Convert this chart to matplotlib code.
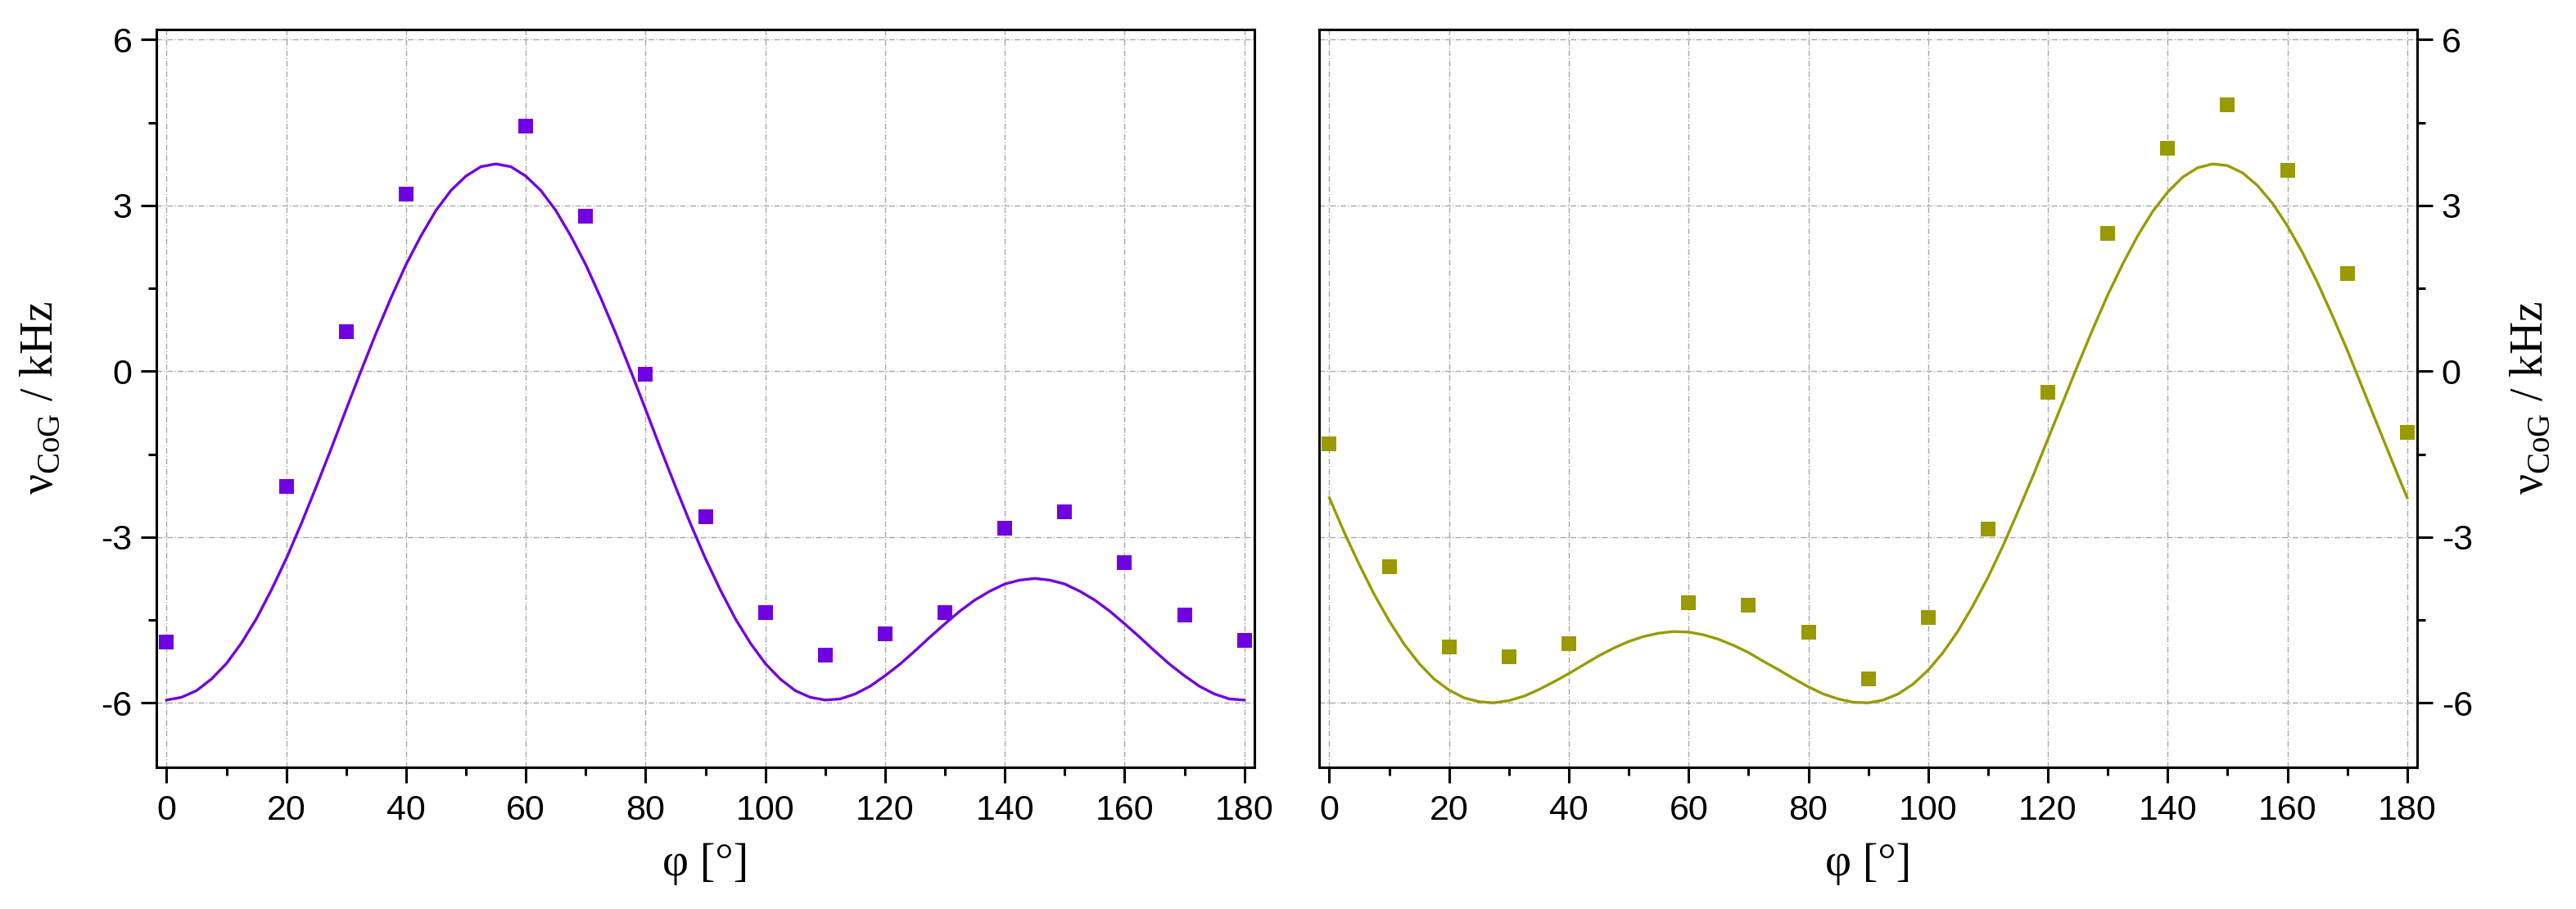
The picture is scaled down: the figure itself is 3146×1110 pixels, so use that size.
import numpy as np
import matplotlib
matplotlib.use('Agg')
import matplotlib.pyplot as plt
from matplotlib.ticker import MultipleLocator

plt.rcParams['font.family'] = ['Liberation Sans', 'DejaVu Sans']
plt.rcParams['axes.unicode_minus'] = False
plt.rcParams['mathtext.fontset'] = 'custom'
plt.rcParams['mathtext.rm'] = 'Liberation Serif'
plt.rcParams['lines.scale_dashes'] = False

# measured points
phi_left = [0, 20, 30, 40, 60, 70, 80, 90, 100, 110, 120, 130, 140, 150, 160, 170, 180]
nu_left = [-4.90, -2.08, 0.72, 3.21, 4.43, 2.80, -0.06, -2.64, -4.36, -5.13,
           -4.75, -4.36, -2.84, -2.54, -3.47, -4.41, -4.87]

phi_right = [0, 10, 20, 30, 40, 60, 70, 80, 90, 100, 110, 120, 130, 140, 150, 160, 170, 180]
nu_right = [-1.31, -3.54, -4.99, -5.16, -4.93, -4.19, -4.24, -4.72, -5.56, -4.45,
            -2.86, -0.38, 2.49, 4.04, 4.82, 3.63, 1.76, -1.10]

# fitted curves, read every 2.5 deg
phi_fit = np.arange(0, 180.01, 2.5)
fit_left = [-5.95, -5.90, -5.78, -5.57, -5.29, -4.92, -4.48, -3.96, -3.39, -2.76,
            -2.09, -1.40, -0.69, 0.01, 0.69, 1.33, 1.93, 2.45, 2.91, 3.27,
            3.53, 3.70, 3.75, 3.70, 3.53, 3.27, 2.91, 2.45, 1.93, 1.33,
            0.69, 0.01, -0.69, -1.40, -2.09, -2.76, -3.39, -3.96, -4.48, -4.92,
            -5.29, -5.57, -5.78, -5.90, -5.95, -5.93, -5.84, -5.70, -5.51, -5.30,
            -5.06, -4.81, -4.57, -4.34, -4.14, -3.98, -3.85, -3.78, -3.75, -3.78,
            -3.85, -3.98, -4.14, -4.34, -4.57, -4.81, -5.06, -5.30, -5.51, -5.70,
            -5.84, -5.93, -5.95]
fit_right = [-2.29, -2.92, -3.50, -4.04, -4.52, -4.94, -5.29, -5.57, -5.77, -5.91,
             -5.98, -6.00, -5.96, -5.88, -5.76, -5.62, -5.47, -5.31, -5.15, -5.01,
             -4.89, -4.80, -4.74, -4.71, -4.72, -4.77, -4.85, -4.96, -5.09, -5.25,
             -5.40, -5.56, -5.71, -5.84, -5.93, -5.99, -6.00, -5.95, -5.84, -5.66,
             -5.41, -5.09, -4.70, -4.24, -3.73, -3.16, -2.54, -1.90, -1.23, -0.56,
             0.11, 0.76, 1.38, 1.94, 2.45, 2.89, 3.24, 3.51, 3.68, 3.75,
             3.72, 3.59, 3.36, 3.04, 2.63, 2.15, 1.61, 1.01, 0.38, -0.29,
             -0.96, -1.63, -2.29]

purple = '#7000E0'
olive = '#999900'

label_font = dict(family=['Liberation Serif', 'DejaVu Serif'], size=20)
ylab = 'ν$_{\\mathrm{CoG}}$ / kHz'
xlab = 'φ [°]'


def style_axes(ax, right):
    ax.set_xlim(-1.7, 181.7)
    ax.set_ylim(-7.16, 6.19)
    ax.xaxis.set_major_locator(MultipleLocator(20))
    ax.xaxis.set_minor_locator(MultipleLocator(10))
    ax.yaxis.set_major_locator(MultipleLocator(3))
    ax.yaxis.set_minor_locator(MultipleLocator(1.5))
    for s in ax.spines.values():
        s.set_linewidth(1.1)
    ax.grid(True, which='major', color='#a8a8a8',
            linestyle=(0, (2.5, 0.8, 0.5, 0.8)), linewidth=0.5)
    ax.set_axisbelow(True)
    ax.tick_params(which='both', direction='out', width=1.1, labelsize=15.5)
    ax.tick_params(which='major', length=7.0)
    ax.tick_params(which='minor', length=3.6)
    ax.tick_params(axis='x', pad=5)
    ax.tick_params(axis='y', pad=3.6)
    if right:
        ax.yaxis.tick_right()
        ax.yaxis.set_label_position('right')
        ax.set_ylabel(ylab, fontdict=label_font, labelpad=16, rotation=90)
    else:
        ax.set_ylabel(ylab, fontdict=label_font, labelpad=17)
    ax.set_xlabel(xlab, fontdict=label_font, labelpad=7)


fig = plt.figure(figsize=(15.73, 5.55), dpi=200)
ax1 = fig.add_axes([0.0607, 0.1563, 0.4263, 0.8117])
ax2 = fig.add_axes([0.5121, 0.1563, 0.4263, 0.8117])

ax1.plot(phi_fit, fit_left, color=purple, lw=1.2, zorder=2)
ax1.plot(phi_left, nu_left, 's', color=purple, ms=6.8, mew=0, zorder=3)
style_axes(ax1, False)

ax2.plot(phi_fit, fit_right, color=olive, lw=1.2, zorder=2)
ax2.plot(phi_right, nu_right, 's', color=olive, ms=6.8, mew=0, zorder=3)
style_axes(ax2, True)

fig.savefig('out.png', dpi=200)
